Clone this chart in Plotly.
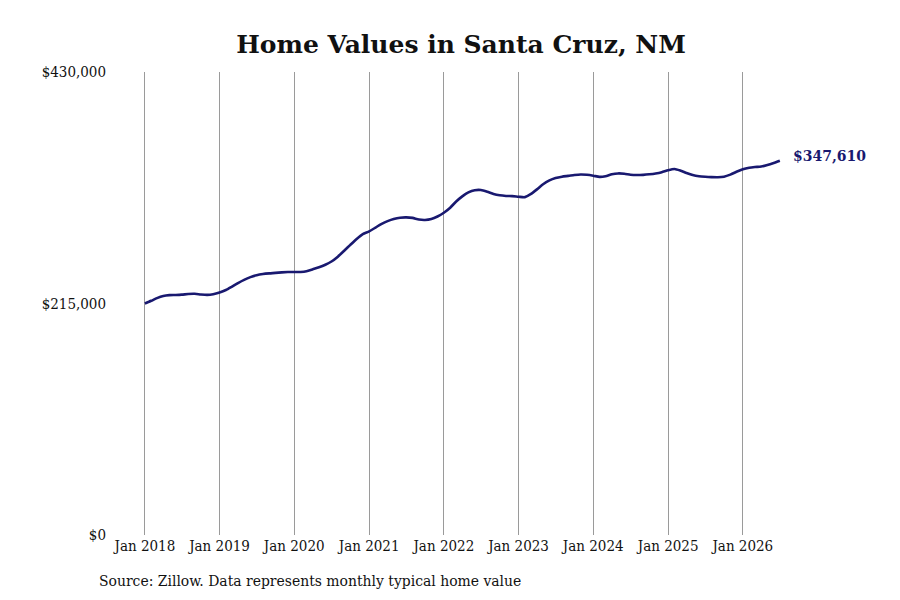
import plotly.graph_objects as go
import pandas as pd

start_month = "2018-01-01"
values = [
    215000, 217500, 220000, 222000, 222800, 222900, 223200, 223800, 224000, 223400, 223000, 223600,
    225200, 227500, 230500, 234000, 237000, 239500, 241300, 242400, 243000, 243400, 243900, 244200,
    244300, 244300, 245000, 246800, 248600, 251000, 254000, 258500, 264000, 269500, 275000, 279500,
    282000, 285500, 288800, 291500, 293500, 294700, 295000, 294500, 293000, 292600, 293500, 295800,
    299300, 304000, 309500, 314500, 318200, 320200, 320400, 318800, 316700, 315500, 314900, 314700,
    314200, 313800, 316500, 321000, 325800, 329300, 331500, 332800, 333500, 334300, 334800, 334500,
    333700, 332600, 333200, 335000, 335800, 335500, 334600, 334300, 334500, 335000, 335800, 337000,
    338800, 339900, 338500, 336200, 334300, 333200, 332700, 332400, 332300, 332800, 334700, 337300,
    339600, 341000, 341700, 342200, 343600, 345500, 347610,
]
dates = pd.date_range(start_month, periods=len(values), freq="MS")

y_tick_vals = [0, 215000, 430000]
y_tick_text = ["$0", "$215,000", "$430,000"]
x_tick_vals = pd.date_range("2018-01-01", "2026-01-01", freq="YS")
x_tick_text = [f"Jan {d.year}" for d in x_tick_vals]

title_text = "Home Values in Santa Cruz, NM"
source_text = "Source: Zillow. Data represents monthly typical home value"
end_label = f"${values[-1]:,}"

LINE = "#191970"
FONT = "DejaVu Serif Condensed, DejaVu Serif, serif"

# plot area (figure coordinates)
L, R, T, B = 108, 778, 64, 527
W, H = 900, 600
PW, PH = R - L, B - T

fig = go.Figure()
fig.add_trace(go.Scatter(
    x=dates, y=values, mode="lines",
    line=dict(color=LINE, width=2.6, shape="spline", smoothing=0.6),
    hoverinfo="skip", showlegend=False,
))

fig.add_annotation(
    x=dates[-1], y=values[-1], xref="x", yref="y",
    text=f"<b>{end_label}</b>", showarrow=False,
    xanchor="left", yanchor="middle", xshift=11, yshift=5,
    font=dict(family="DejaVu Serif, serif", size=14, color=LINE),
)
fig.add_annotation(
    x=(89 - L) / PW, y=-(573 - B) / PH, xref="paper", yref="paper",
    text=source_text, showarrow=False, xanchor="left", yanchor="middle",
    font=dict(family=FONT, size=15.5, color="#111111"),
)

fig.update_layout(
    width=W, height=H,
    paper_bgcolor="white", plot_bgcolor="white",
    margin=dict(l=L, r=W - R, t=T, b=H - B),
    font=dict(family=FONT, size=15, color="#111111"),
    title=dict(
        text=f"<b>{title_text}</b>", x=453 / W, xanchor="center",
        y=1 - 36 / H, yanchor="middle",
        font=dict(family="DejaVu Serif, serif", size=25, color="#111111"),
    ),
    xaxis=dict(
        type="date",
        range=["2017-08-13", "2026-07-31"],
        tickvals=list(x_tick_vals), ticktext=x_tick_text,
        showgrid=True, gridcolor="#9a9a9a", gridwidth=1,
        showline=False, zeroline=False, ticks="", ticklen=0,
        tickfont=dict(family=FONT, size=15, color="#111111"),
    ),
    yaxis=dict(
        range=[0, 430000],
        tickvals=y_tick_vals, ticktext=y_tick_text,
        showgrid=False, zeroline=False, showline=False,
        ticks="", ticklabelstandoff=9,
        tickfont=dict(family=FONT, size=15, color="#111111"),
    ),
)

fig.write_html("out.html")
